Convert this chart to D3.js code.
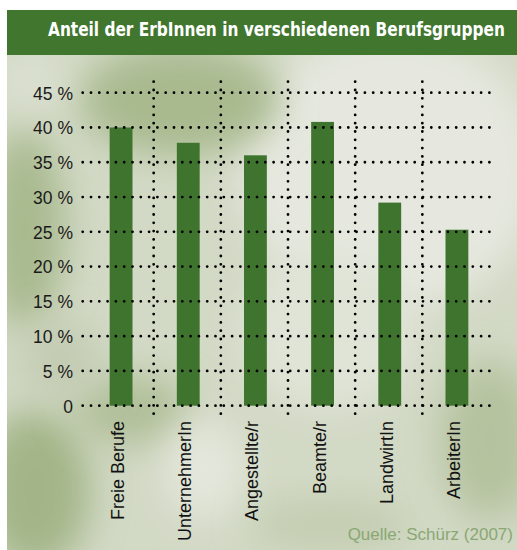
<!DOCTYPE html>
<html>
<head>
<meta charset="utf-8">
<script src="https://cdn.jsdelivr.net/npm/d3@7"></script>
<style>
  body { margin: 0; background: #fff; }
  svg { display: block; }
</style>
</head>
<body>
<div id="chart"></div>
<script>

// Data
var categories = ["Freie Berufe", "UnternehmerIn", "Angestellte/r", "Beamte/r", "LandwirtIn", "ArbeiterIn"];
var shares = [40, 37.8, 36, 40.8, 29.2, 25.3];
var yTicks = [0, 5, 10, 15, 20, 25, 30, 35, 40, 45];
var titleText = "Anteil der ErbInnen in verschiedenen Berufsgruppen";
var sourceText = "Quelle: Schürz (2007)";

var width = 517, height = 550;

var svg = d3.select("#chart")
  .append("svg")
    .attr("width", width)
    .attr("height", height);

var defs = svg.append("defs");
defs.append("filter").attr("id", "blur")
    .attr("x", "-50%").attr("y", "-50%").attr("width", "200%").attr("height", "200%")
  .append("feGaussianBlur").attr("stdDeviation", 18);
defs.append("clipPath").attr("id", "panel")
  .append("rect").attr("x", 7).attr("y", 55).attr("width", 510).attr("height", 495);

// Background panel with soft blotches
var bg = svg.append("g").attr("clip-path", "url(#panel)");
bg.append("rect")
    .attr("x", 7).attr("y", 55).attr("width", 510).attr("height", 495)
    .attr("fill", "#d2d9c5");
var blobs = [
  // [cx, cy, rx, ry, color]
  [390, 170, 150, 140, "#e6e8df"],
  [330, 330, 90, 80, "#e0e4d7"],
  [180, 100, 100, 55, "#a9ba8f"],
  [25, 230, 40, 100, "#a9ba8f"],
  [35, 490, 55, 80, "#a3b588"],
  [130, 410, 60, 35, "#b1bf99"],
  [30, 80, 30, 25, "#dde2d3"],
  [205, 470, 40, 50, "#e4e7dc"],
  [490, 440, 50, 80, "#b5c29f"],
  [330, 525, 80, 25, "#c3cdb0"],
  [60, 360, 40, 40, "#c3ccb2"]
];
bg.selectAll("ellipse.blob")
  .data(blobs)
  .enter().append("ellipse")
    .attr("class", "blob")
    .attr("cx", function(d) { return d[0]; })
    .attr("cy", function(d) { return d[1]; })
    .attr("rx", function(d) { return d[2]; })
    .attr("ry", function(d) { return d[3]; })
    .attr("fill", function(d) { return d[4]; })
    .attr("filter", "url(#blur)");

// Title bar
svg.append("rect")
    .attr("x", 7).attr("y", 10).attr("width", 510).attr("height", 45)
    .attr("fill", "#41762f");
var title = svg.append("text")
    .style("font-family", "'DejaVu Sans', sans-serif")
    .style("font-weight", "bold")
    .style("font-size", "20px")
    .style("fill", "#fff")
    .text(titleText);
// squeeze horizontally to the condensed width of the original
var tw = title.node().getComputedTextLength();
title.attr("transform", "translate(48,36) scale(" + (457 / tw) + ",1)");

// Scales
var x = d3.scaleBand()
    .domain(categories)
    .range([86, 489])
    .paddingInner(0.66)
    .paddingOuter(0.33);
var y = d3.scaleLinear()
    .domain([0, 45])
    .range([405.7, 92.7]);

var dotStyle = function(sel) {
  sel.attr("stroke", "#000")
     .attr("stroke-width", 2.8)
     .attr("stroke-linecap", "round")
     .attr("stroke-dasharray", "0 8.3")
     .attr("fill", "none");
};

// Bars
svg.selectAll("rect.bar")
  .data(shares)
  .enter().append("rect")
    .attr("class", "bar")
    .attr("x", function(d, i) { return x(categories[i]) + 1.5; })
    .attr("width", x.bandwidth())
    .attr("y", function(d) { return y(d); })
    .attr("height", function(d) { return y(0) - y(d); })
    .attr("fill", "#3f742e");

// Horizontal dotted grid
svg.selectAll("line.hgrid")
  .data(yTicks)
  .enter().append("line")
    .attr("class", "hgrid")
    .attr("x1", 82.7).attr("x2", 491)
    .attr("y1", function(d) { return y(d); })
    .attr("y2", function(d) { return y(d); })
    .call(dotStyle);

// Vertical dotted separators between categories
var seps = categories.slice(1);
svg.selectAll("line.vgrid")
  .data(seps)
  .enter().append("line")
    .attr("class", "vgrid")
    .attr("x1", function(d) { return x(d) - x.step() * x.paddingInner() / 2 + 0.5; })
    .attr("x2", function(d) { return x(d) - x.step() * x.paddingInner() / 2 + 0.5; })
    .attr("y1", 81.7).attr("y2", 419)
    .call(dotStyle);

// Y axis labels
var yAxis = svg.append("g")
    .attr("transform", "translate(73,0)")
    .call(d3.axisLeft(y)
      .tickValues(yTicks)
      .tickSize(0)
      .tickPadding(0)
      .tickFormat(function(d) { return d === 0 ? "0" : d + " %"; }));
yAxis.select(".domain").remove();
yAxis.selectAll("text")
    .style("font-family", "'Liberation Sans', Arial, sans-serif")
    .style("font-size", "17.5px")
    .style("fill", "#1a1a1a")
    .attr("dy", "0.36em");

// X axis labels (rotated)
var xAxis = svg.append("g")
    .attr("transform", "translate(-2,421)")
    .call(d3.axisBottom(x).tickSize(0).tickPadding(0));
xAxis.select(".domain").remove();
xAxis.selectAll("text")
    .attr("transform", "rotate(-90)")
    .attr("x", 0)
    .attr("y", 0)
    .attr("dy", "0.36em")
    .style("text-anchor", "end")
    .style("font-family", "'Liberation Sans', Arial, sans-serif")
    .style("font-size", "18px")
    .style("fill", "#111");

// Source
svg.append("text")
    .attr("x", 513).attr("y", 540)
    .style("text-anchor", "end")
    .style("font-family", "'Liberation Sans', Arial, sans-serif")
    .style("font-size", "17px")
    .style("fill", "#8aa774")
    .text(sourceText);

</script>
</body>
</html>
